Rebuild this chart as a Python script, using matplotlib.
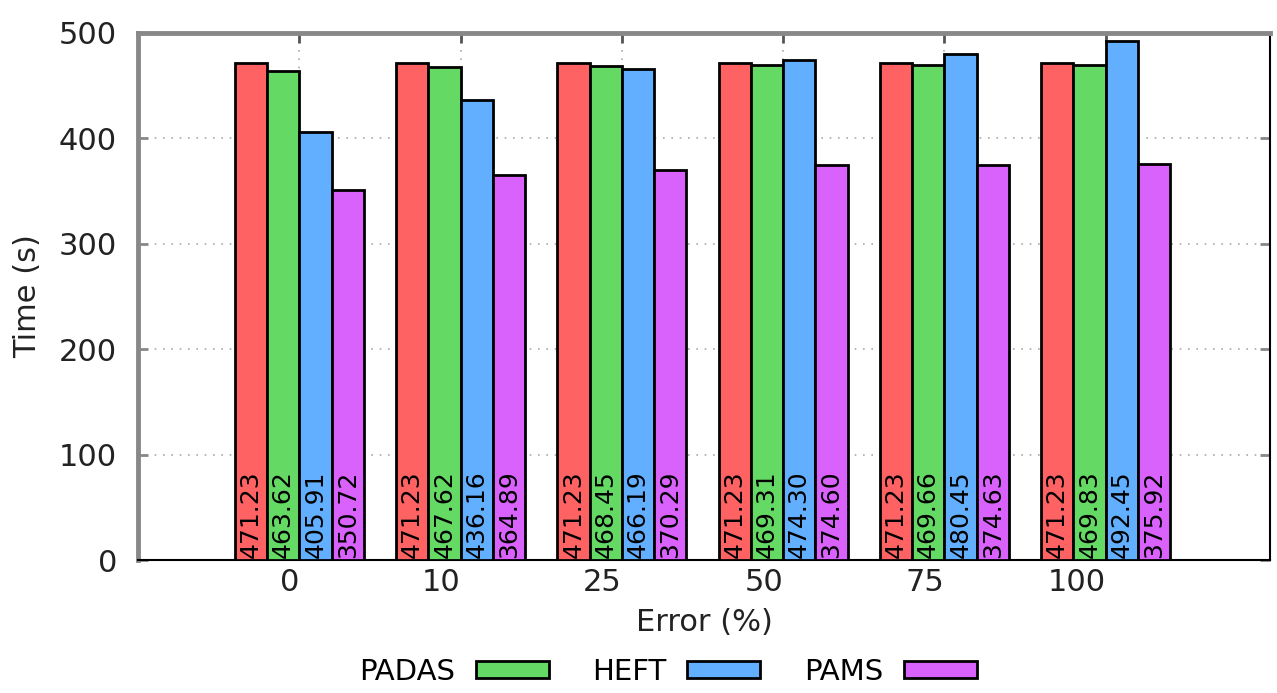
import matplotlib
matplotlib.use("Agg")
import matplotlib.pyplot as plt
import matplotlib.transforms as mtransforms
from matplotlib.patches import Patch
import numpy as np

categories = ["0", "10", "25", "50", "75", "100"]
series_names = ["PADAS-red", "PADAS", "HEFT", "PAMS"]
red_vals = [471.23, 471.23, 471.23, 471.23, 471.23, 471.23]
padas_vals = [463.62, 467.62, 468.45, 469.31, 469.66, 469.83]
heft_vals = [405.91, 436.16, 466.19, 474.30, 480.45, 492.45]
pams_vals = [350.72, 364.89, 370.29, 374.60, 374.63, 375.92]
yticks = [0, 100, 200, 300, 400, 500]

colors = ["#ff6262", "#64d964", "#62afff", "#d862fb"]
series = [red_vals, padas_vals, heft_vals, pams_vals]

plt.rcParams["font.family"] = ["DejaVu Sans"]

fig = plt.figure(figsize=(12.77, 6.93), dpi=100)
W, H = 1277, 693
ax = fig.add_axes([138 / W, 1 - 560 / H, (1270 - 138) / W, (560 - 33) / H])

x = np.arange(len(categories))
width = 0.2
for i, (vals, c) in enumerate(zip(series, colors)):
    pos = x + (i - 1.5) * width
    ax.bar(pos, vals, width=width, color=c, edgecolor="black", linewidth=2, zorder=3)
    for px, v in zip(pos, vals):
        ax.text(px, 2, f"{v:.2f}", rotation=90, ha="center", va="bottom",
                fontsize=18, color="black", zorder=4)

ax.set_xlim(-1.0, 6.02)
ax.set_ylim(0, 500)
ax.set_yticks(yticks)
ax.set_yticklabels([str(t) for t in yticks], fontsize=22, color="#222222")
ax.set_xticks(x)
ax.set_xticklabels(categories, fontsize=22, color="#222222", ha="right")
offset = mtransforms.ScaledTranslation(8 / 100, 0, fig.dpi_scale_trans)
for lab in ax.get_xticklabels():
    lab.set_transform(lab.get_transform() + offset)

ax.tick_params(axis="y", direction="in", length=7, width=2, color="#888888", pad=15,
               right=True)
ax.tick_params(axis="x", direction="in", length=7, width=2, color="#555555", pad=6,
               top=True, bottom=False)

ax.set_axisbelow(True)
ax.grid(True, axis="both", linestyle=(0, (1, 4)), color="#aaaaaa", linewidth=1.2)

for side in ["left", "top"]:
    ax.spines[side].set_color("#888888")
    ax.spines[side].set_linewidth(3.5)
for side in ["right", "bottom"]:
    ax.spines[side].set_color("black")
    ax.spines[side].set_linewidth(1.5)

ax.set_ylabel("Time (s)", fontsize=22, color="#222222", labelpad=12)
ax.set_xlabel("Error (%)", fontsize=22, color="#222222", labelpad=8)

handles = [Patch(facecolor=c, edgecolor="black", linewidth=2) for c in colors[1:]]
fig.legend(handles, series_names[1:], loc="center", bbox_to_anchor=(668 / W, 1 - 672 / H),
           ncol=3, frameon=False, markerfirst=False, fontsize=21,
           handlelength=2.5, handleheight=0.5, handletextpad=0.7, columnspacing=1.5)

fig.savefig("out.png", dpi=100)
